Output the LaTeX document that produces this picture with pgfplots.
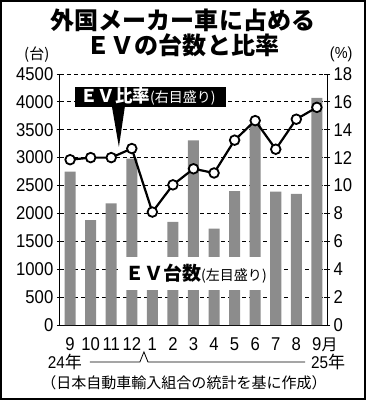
\documentclass[border=0pt]{standalone}
\usepackage{fontspec}
\usepackage{pgfplots}
\pgfplotsset{compat=1.18}
\setmainfont{Liberation Sans}
\newfontfamily\numfont{Liberation Sans}[FakeStretch=0.9]
\newfontfamily\jp{Noto Sans CJK JP}
\begin{document}
\begin{tikzpicture}[x=1pt,y=1pt]
\draw[line width=1.5pt] (1,1) rectangle (365,399);
\node[font=\jp\bfseries\fontsize{24}{24}\selectfont] at (183,379) {外国メーカー車に占める};
\node[font=\jp\bfseries\fontsize{24}{24}\selectfont] at (183,355) {ＥＶの台数と比率};
\node[font=\jp\fontsize{15}{15}\selectfont] at (37,345) {(台)};
\node[font=\numfont\fontsize{16}{16}\selectfont] at (341,345) {(\%)};
\begin{axis}[at={(60pt,75pt)}, anchor=south west, width=267pt, height=251pt, scale only axis,
  xmin=-0.5, xmax=12.5, ymin=0, ymax=4500,
  axis x line*=bottom, axis y line*=left,
  axis line style={line width=1pt,-},
  ytick={0,500,...,4500},
  xtick={0,...,12},
  xticklabels={9,10,11,12,1,2,3,4,5,6,7,8,9\rlap{\jp\fontsize{16}{16}\selectfont 月}},
  xtick style={draw=none},
  xticklabel style={yshift=-6pt},
  ytick style={black, line width=0.6pt},
  tick align=center, major tick length=6pt,
  ymajorgrids, grid style={black, line width=0.6pt, dash pattern=on 4pt off 3pt},
  /pgf/number format/assume math mode=true,
  /pgf/number format/1000 sep={},
  tick label style={font=\numfont\fontsize{18.5}{18.5}\selectfont},
  ]
\addplot[ybar, bar width=11pt, fill=black!45, draw=none] coordinates {
(0,2750) (1,1880) (2,2180) (3,2980) (4,1100) (5,1850) (6,3310)
(7,1730) (8,2400) (9,3600) (10,2390) (11,2350) (12,4070)};
\end{axis}
\fill[white] (118,110) rectangle (268,143);
\node[anchor=west, inner sep=0] at (125,126.5) {\jp\bfseries\fontsize{19}{19}\selectfont ＥＶ台数\mdseries\fontsize{14}{14}\selectfont(左目盛り)};
\begin{axis}[at={(60pt,75pt)}, anchor=south west, width=267pt, height=251pt, scale only axis,
  xmin=-0.5, xmax=12.5, ymin=0, ymax=18,
  axis x line=none, axis y line*=right,
  axis line style={line width=1pt,-},
  ytick={0,2,...,18},
  ytick style={black, line width=0.6pt},
  tick align=center, major tick length=6pt,
  /pgf/number format/assume math mode=true,
  tick label style={font=\numfont\fontsize{18.5}{18.5}\selectfont},
  ]
\addplot[black, line width=2.2pt, mark=*, mark size=4.8pt, mark options={fill=white, draw=black, line width=1.8pt}] coordinates {
(0,11.85) (1,12.0) (2,12.0) (3,12.65) (4,8.1) (5,10.05) (6,11.2)
(7,10.9) (8,13.25) (9,14.65) (10,12.6) (11,14.75) (12,15.6)};
\end{axis}
\fill (75.5,293) rectangle (226,313);
\fill (112,293.5) -- (125,293.5) -- (119,253) -- cycle;
\node[anchor=west, text=white, inner sep=0] at (80,303) {\jp\bfseries\fontsize{17.5}{17.5}\selectfont ＥＶ比率\mdseries\fontsize{14}{14}\selectfont(右目盛り)};
\draw[line width=0.8pt] (90,38.3) -- (140,38.3) -- (144,48.3) -- (148,38.3) -- (305,38.3);
\node[font=\fontsize{17}{17}\selectfont] at (65,38) {\numfont 24\jp 年};
\node[font=\fontsize{17}{17}\selectfont] at (328,38) {\numfont 25\jp 年};
\node[font=\jp\fontsize{15}{15}\selectfont] at (184,17) {（日本自動車輸入組合の統計を基に作成）};
\end{tikzpicture}
\end{document}
